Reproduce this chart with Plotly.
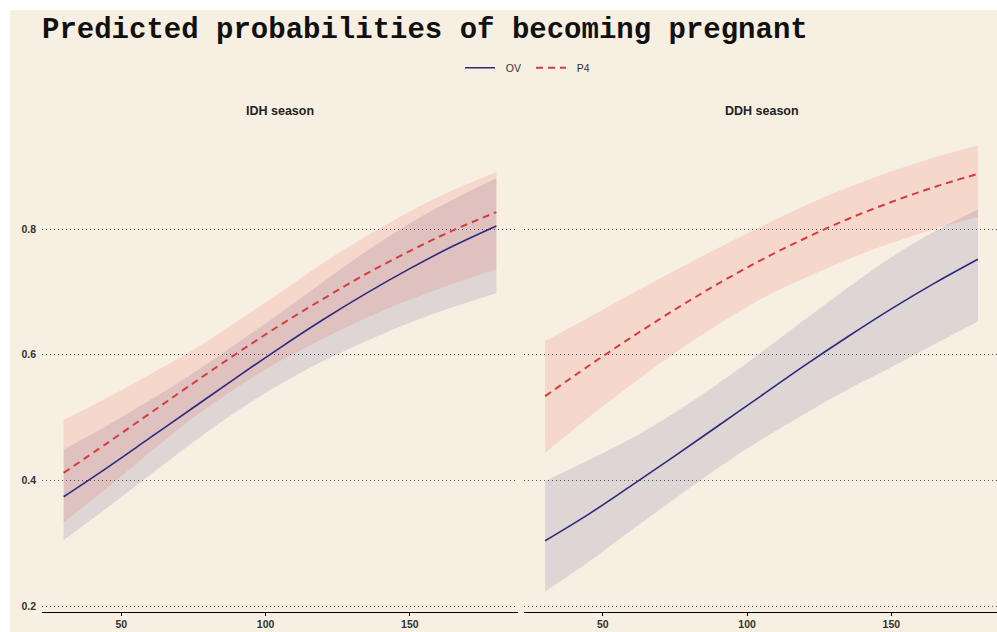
import plotly.graph_objects as go

# ---------------- data ----------------
dose = [30, 45, 60, 75, 90, 105, 120, 135, 150, 165, 180]

idh_ov_est = [0.374, 0.420, 0.468, 0.516, 0.564, 0.611, 0.656, 0.698, 0.737, 0.773, 0.805]
idh_ov_lo  = [0.305, 0.356, 0.409, 0.461, 0.510, 0.553, 0.590, 0.622, 0.651, 0.676, 0.698]
idh_ov_hi  = [0.449, 0.487, 0.528, 0.571, 0.618, 0.666, 0.716, 0.765, 0.809, 0.847, 0.881]
idh_p4_est = [0.412, 0.459, 0.507, 0.555, 0.602, 0.647, 0.689, 0.729, 0.765, 0.798, 0.827]
idh_p4_lo  = [0.333, 0.388, 0.445, 0.500, 0.548, 0.590, 0.626, 0.659, 0.688, 0.713, 0.736]
idh_p4_hi  = [0.496, 0.531, 0.569, 0.608, 0.653, 0.699, 0.746, 0.789, 0.828, 0.862, 0.891]

ddh_ov_est = [0.304, 0.346, 0.392, 0.439, 0.487, 0.535, 0.583, 0.629, 0.673, 0.714, 0.752]
ddh_ov_lo  = [0.223, 0.270, 0.321, 0.371, 0.420, 0.465, 0.506, 0.545, 0.580, 0.617, 0.653]
ddh_ov_hi  = [0.399, 0.432, 0.467, 0.508, 0.554, 0.604, 0.656, 0.707, 0.755, 0.796, 0.831]
ddh_p4_est = [0.534, 0.582, 0.628, 0.672, 0.713, 0.751, 0.785, 0.816, 0.843, 0.867, 0.888]
ddh_p4_lo  = [0.444, 0.500, 0.553, 0.603, 0.648, 0.689, 0.722, 0.752, 0.778, 0.800, 0.819]
ddh_p4_hi  = [0.622, 0.659, 0.697, 0.734, 0.770, 0.804, 0.837, 0.866, 0.892, 0.914, 0.933]

panel_titles = ["IDH season", "DDH season"]
series_names = ["OV", "P4"]
x_ticks = [50, 100, 150]
y_ticks = [0.2, 0.4, 0.6, 0.8]

# ---------------- styling ----------------
W, H = 997, 632
BG = "#F7EFE2"
OV_COL = "#2B2A7E"
P4_COL = "#D63C3C"
OV_FILL = "rgba(30,30,120,0.12)"
P4_FILL = "rgba(239,45,40,0.12)"
SANS = "Liberation Sans, Arial, sans-serif"
NB = "\u00a0\u00a0"  # small gap between legend key and label


def sx(px):  # screen x -> paper fraction
    return px / W


def sy(py):  # screen y -> paper fraction
    return 1 - py / H


fig = go.Figure()

panels = [
    ("x", "y", idh_ov_est, idh_ov_lo, idh_ov_hi, idh_p4_est, idh_p4_lo, idh_p4_hi),
    ("x2", "y2", ddh_ov_est, ddh_ov_lo, ddh_ov_hi, ddh_p4_est, ddh_p4_lo, ddh_p4_hi),
]

for i, (xa, ya, ov_e, ov_l, ov_h, p4_e, p4_l, p4_h) in enumerate(panels):
    # confidence bands (lower edge, then upper edge filled down to it)
    for lo, hi, fc in ((ov_l, ov_h, OV_FILL), (p4_l, p4_h, P4_FILL)):
        fig.add_trace(go.Scatter(
            x=dose, y=lo, mode="lines", line=dict(width=0, shape="spline"),
            hoverinfo="skip", showlegend=False, xaxis=xa, yaxis=ya))
        fig.add_trace(go.Scatter(
            x=dose, y=hi, mode="lines", fill="tonexty", fillcolor=fc,
            line=dict(width=0, shape="spline"),
            hoverinfo="skip", showlegend=False, xaxis=xa, yaxis=ya))
    fig.add_trace(go.Scatter(
        x=dose, y=p4_e, mode="lines", name=NB + series_names[1],
        line=dict(color=P4_COL, width=2, dash="7px,5px", shape="spline"),
        showlegend=(i == 0), legendrank=2, xaxis=xa, yaxis=ya))
    fig.add_trace(go.Scatter(
        x=dose, y=ov_e, mode="lines", name=NB + series_names[0],
        line=dict(color=OV_COL, width=1.6, shape="spline"),
        showlegend=(i == 0), legendrank=1, xaxis=xa, yaxis=ya))

# axis geometry (screen pixels)
lx0, lx1 = 42, 518
rx0 = 523.5
px_per_unit = (lx1 - lx0) / 165.0
py_top, py_bot = 123.5, 611.7
ydom = [sy(py_bot), sy(py_top)]

xcommon = dict(showline=True, linecolor="black", linewidth=1,
               ticks="outside", ticklen=3, tickcolor="black", tickwidth=1,
               tickvals=x_ticks, showgrid=False, zeroline=False,
               tickfont=dict(family=SANS, size=10.5, color="#333333", weight="bold"),
               automargin=False, fixedrange=True)
ycommon = dict(range=[0.191, 0.968], tickvals=y_ticks,
               showgrid=True, gridcolor="#555555", gridwidth=1, griddash="1px,3px",
               zeroline=False, showline=False, ticks="",
               automargin=False, fixedrange=True)

fig.update_layout(
    width=W, height=H,
    margin=dict(l=0, r=0, t=0, b=0),
    paper_bgcolor=BG, plot_bgcolor=BG,
    xaxis=dict(domain=[sx(lx0), sx(lx1)], anchor="y", range=[22.5, 187.5], **xcommon),
    xaxis2=dict(domain=[sx(rx0), 1.0], anchor="y2",
                range=[22.5, 22.5 + (W - rx0) / px_per_unit], **xcommon),
    yaxis=dict(domain=ydom, anchor="x", showticklabels=True, tickformat=".1f",
               ticklabelstandoff=5,
               tickfont=dict(family=SANS, size=10.5, color="#333333", weight="bold"),
               **ycommon),
    yaxis2=dict(domain=ydom, anchor="x2", showticklabels=False, **ycommon),
    legend=dict(orientation="h", x=sx(460), xanchor="left",
                y=sy(67.7), yanchor="middle", entrywidth=26,
                bgcolor="rgba(0,0,0,0)", font=dict(family=SANS, size=10.5, color="#333333"),
                itemwidth=30, traceorder="normal"),
    showlegend=True,
)

annotations = [
    dict(text="<b>Predicted probabilities of becoming pregnant</b>",
         x=sx(40), y=sy(30), xref="paper", yref="paper",
         xanchor="left", yanchor="middle", showarrow=False,
         font=dict(family="Liberation Mono, Courier New, monospace", size=29, color="#111111")),
]
for t, (a, b) in zip(panel_titles, [(lx0, lx1), (rx0, 1000)]):
    annotations.append(dict(text="<b>%s</b>" % t, x=sx((a + b) / 2), y=sy(111),
                            xref="paper", yref="paper", xanchor="center", yanchor="middle",
                            showarrow=False,
                            font=dict(family=SANS, size=12.5, color="#222222")))
fig.update_layout(annotations=annotations)

# white border strips at the top and left edges, as in the reference image
fig.update_layout(shapes=[
    dict(type="rect", xref="paper", yref="paper", x0=0, x1=10 / W, y0=0, y1=1,
         fillcolor="white", line=dict(width=0), layer="above"),
    dict(type="rect", xref="paper", yref="paper", x0=0, x1=1, y0=1 - 10 / H, y1=1,
         fillcolor="white", line=dict(width=0), layer="above"),
])

fig.write_html(
    "out.html",
    config={"displayModeBar": False, "staticPlot": True},
    post_script="document.body.style.margin='0';document.body.style.overflow='hidden';",
)
